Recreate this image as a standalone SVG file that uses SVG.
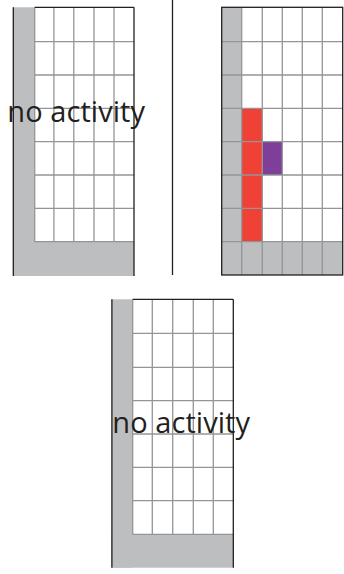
<svg xmlns="http://www.w3.org/2000/svg" width="344" height="574" viewBox="0 0 344 574">
<style>
.bg{fill:#ffffff}
.gray{fill:#bcbec0}
.grid{stroke:#939598;stroke-width:1.3;fill:none}
.edge{stroke:#231f20;stroke-width:1.3;fill:none}
.lbl{font-family:"Open Sans","Noto Sans",sans-serif;font-size:29px;fill:#231f20}
</style>
<rect x="0" y="0" width="344" height="574" fill="#ffffff"/>

<g id="panel-left">
  <rect class="gray" x="13" y="7.3" width="21.7" height="268.7"/>
  <rect class="gray" x="13" y="241.7" width="121" height="34.3"/>
  <g class="grid">
    <path d="M53.9 7.3V241.7M73.8 7.3V241.7M94 7.3V241.7M114 7.3V241.7"/>
    <path d="M34.7 41.7H134M34.7 75H134M34.7 108.3H134M34.7 141.7H134M34.7 175H134M34.7 208.3H134M34.7 241.7H134"/>
    <path d="M34.7 7.3V241.7"/>
  </g>
  <path class="edge" d="M13.3 7.3V276M134 7.3V276M34.7 7.3H134"/>
  <text class="lbl" x="7.3" y="122" textLength="137.7">no activity</text>
</g>

<g id="divider">
  <path class="edge" d="M172.5 0V275"/>
</g>

<g id="panel-right">
  <rect class="gray" x="221.7" y="7.3" width="20" height="267.7"/>
  <rect class="gray" x="221.7" y="241.7" width="121" height="33.3"/>
  <rect x="241.7" y="108.3" width="20.6" height="133.4" fill="#ef4136"/>
  <rect x="262.3" y="141.7" width="20" height="33.3" fill="#7f3f98"/>
  <g class="grid">
    <path d="M241.7 7.3V275M262.3 7.3V275M282.3 7.3V275M302.3 7.3V275M322.3 7.3V275"/>
    <path d="M221.7 41.7H342.7M221.7 75H342.7M221.7 108.3H342.7M221.7 141.7H342.7M221.7 175H342.7M221.7 208.3H342.7M221.7 241.7H342.7"/>
  </g>
  <rect class="edge" x="221.7" y="7.3" width="121" height="267.7" stroke-width="1.6"/>
</g>

<g id="panel-bottom">
  <rect class="gray" x="111.7" y="299.3" width="21" height="268.4"/>
  <rect class="gray" x="111.7" y="534.3" width="121.6" height="33.4"/>
  <g class="grid">
    <path d="M132.7 299.3V534.3M152.3 299.3V534.3M172.7 299.3V534.3M193.3 299.3V534.3M213.3 299.3V534.3"/>
    <path d="M132.7 333.3H233.3M132.7 367.3H233.3M132.7 400.7H233.3M132.7 434H233.3M132.7 467.3H233.3M132.7 500.7H233.3M132.7 534.3H233.3"/>
  </g>
  <path class="edge" d="M111.9 299.3V567.7M233.3 299.3V567.7M132.7 299.3H233.3" stroke-width="1"/>
  <text class="lbl" x="112.3" y="432.5" textLength="137.7">no activity</text>
</g>
</svg>
